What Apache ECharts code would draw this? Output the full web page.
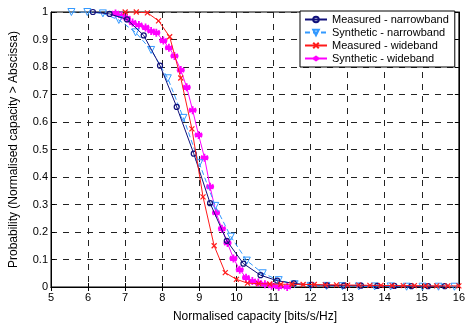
<!DOCTYPE html>
<html>
<head>
<meta charset="utf-8">
<script src="https://cdn.jsdelivr.net/npm/echarts@6/dist/echarts.min.js"></script>
<style>
  html, body { margin: 0; padding: 0; background: #fff; }
  #chart { width: 468px; height: 329px; }
</style>
</head>
<body>
<div id="chart"></div>
<script>
// values
const seriesNames = ['Measured - narrowband', 'Synthetic - narrowband', 'Measured - wideband', 'Synthetic - wideband'];

const measNarrowX = [6.13, 6.58, 7.05, 7.5, 7.94, 8.39, 8.85, 9.29, 9.74, 10.19, 10.65, 11.1, 11.55, 12.02, 12.44, 12.9, 13.36, 13.8, 14.26, 14.72, 15.17, 15.62];
const measNarrowY = [1.0, 0.993, 0.973, 0.915, 0.805, 0.655, 0.485, 0.305, 0.168, 0.085, 0.043, 0.023, 0.013, 0.008, 0.006, 0.005, 0.005, 0.004, 0.004, 0.003, 0.003, 0.003];

const synNarrowX = [5.55, 5.98, 6.4, 6.83, 7.28, 7.7, 8.15, 8.57, 9.0, 9.43, 9.85, 10.28, 10.71, 11.14, 11.57, 12.0, 12.43, 12.86, 13.3, 13.73, 14.16, 14.59, 15.02, 15.45, 15.88];
const synNarrowY = [1.0, 1.0, 0.995, 0.971, 0.926, 0.862, 0.759, 0.615, 0.45, 0.295, 0.183, 0.096, 0.05, 0.025, 0.01, 0.004, 0.004, 0.003, 0.002, 0.002, 0.002, 0.001, 0.001, 0.001, 0.001];

const measWideX = [7.0, 7.3, 7.6, 7.9, 8.2, 8.5, 8.8, 9.1, 9.4, 9.7, 10.0, 10.3, 10.6, 10.9, 11.2, 11.5, 11.8, 12.1, 12.4, 12.7, 13.0, 13.3, 13.6, 13.9, 14.2, 14.5, 14.8, 15.1, 15.4, 15.7, 16.0];
const measWideY = [1.0, 1.0, 0.997, 0.968, 0.91, 0.76, 0.575, 0.328, 0.15, 0.052, 0.028, 0.014, 0.012, 0.011, 0.01, 0.01, 0.009, 0.009, 0.008, 0.008, 0.007, 0.007, 0.006, 0.006, 0.005, 0.005, 0.005, 0.004, 0.004, 0.004, 0.004];

const synWideX = [6.74, 6.9, 7.05, 7.2, 7.37, 7.55, 7.7, 7.84, 8.03, 8.18, 8.33, 8.5, 8.66, 8.82, 8.98, 9.14, 9.29, 9.45, 9.61, 9.76, 9.92, 10.09, 10.26, 10.43, 10.59, 10.77, 10.95, 11.14, 11.37];
const synWideY = [0.995, 0.987, 0.977, 0.962, 0.953, 0.944, 0.931, 0.925, 0.896, 0.87, 0.84, 0.789, 0.726, 0.643, 0.553, 0.47, 0.365, 0.27, 0.212, 0.16, 0.104, 0.063, 0.034, 0.022, 0.016, 0.01, 0.005, 0.001, 0.0];

const xTicks = {min: 5, max: 16, interval: 1};
const yTicks = {min: 0, max: 1, interval: 0.1};

const pairs = (xs, ys) => xs.map((x, i) => [x, ys[i]]);

const FONT = 'Liberation Sans';
const crossPath = 'path://M0,0L10,10M0,10L10,0';
const starPath = 'path://M5,0L5,10M0.7,2.5L9.3,7.5M0.7,7.5L9.3,2.5M0,5L10,5';
const clear = 'rgba(255,255,255,0)';

const chart = echarts.init(document.getElementById('chart'));

const gridLine = {show: true, lineStyle: {color: '#222', width: 1, type: [6, 6]}};
const tickIn = {show: true, inside: true, length: 4, lineStyle: {color: '#000'}};

const option = {
  animation: false,
  backgroundColor: '#fff',
  textStyle: {fontFamily: FONT},
  grid: {left: 51, right: 7, top: 12, bottom: 42, show: true, borderColor: '#000', borderWidth: 1},
  legend: {
    orient: 'vertical',
    left: 300,
    top: 11,
    padding: [2, 6, 2, 4],
    itemGap: 0,
    itemWidth: 22,
    itemHeight: 7,
    itemTextGap: 6,
    backgroundColor: '#fff',
    borderColor: '#000',
    borderWidth: 1,
    borderRadius: 0,
    textStyle: {fontFamily: FONT, fontSize: 11, color: '#000', lineHeight: 13},
    data: seriesNames
  },
  xAxis: [
    {
      type: 'value', ...xTicks,
      name: 'Normalised capacity [bits/s/Hz]',
      nameLocation: 'middle', nameGap: 24,
      nameTextStyle: {fontFamily: FONT, fontSize: 12, color: '#000'},
      axisLine: {show: true, lineStyle: {color: '#000'}},
      axisTick: tickIn,
      axisLabel: {fontFamily: FONT, fontSize: 11, color: '#000', margin: 5},
      splitLine: gridLine
    },
    {
      type: 'value', ...xTicks, position: 'top',
      axisLine: {show: true, lineStyle: {color: '#000'}},
      axisTick: tickIn,
      axisLabel: {show: false},
      splitLine: {show: false}
    }
  ],
  yAxis: [
    {
      type: 'value', ...yTicks,
      name: 'Probability (Normalised capacity > Abscissa)',
      nameLocation: 'middle', nameGap: 31, nameRotate: 90,
      nameTextStyle: {fontFamily: FONT, fontSize: 12, color: '#000'},
      axisLine: {show: true, lineStyle: {color: '#000'}},
      axisTick: tickIn,
      axisLabel: {
        fontFamily: FONT, fontSize: 11, color: '#000', margin: 3,
        formatter: v => (v === 0 ? '0' : v === 1 ? '1' : v.toFixed(1))
      },
      splitLine: gridLine
    },
    {
      type: 'value', ...yTicks, position: 'right',
      axisLine: {show: true, lineStyle: {color: '#000'}},
      axisTick: tickIn,
      axisLabel: {show: false},
      splitLine: {show: false}
    }
  ],
  series: [
    {
      name: seriesNames[0],
      type: 'line',
      data: pairs(measNarrowX, measNarrowY),
      symbol: 'circle',
      symbolSize: 5,
      showAllSymbol: true,
      color: '#10107a',
      lineStyle: {color: '#10107a', width: 1},
      itemStyle: {color: clear, borderColor: '#10107a', borderWidth: 1.2},
      z: 4
    },
    {
      name: seriesNames[1],
      type: 'line',
      data: pairs(synNarrowX, synNarrowY),
      symbol: 'triangle',
      symbolRotate: 180,
      symbolSize: 7,
      showAllSymbol: true,
      color: '#3399ff',
      lineStyle: {color: '#3399ff', width: 1, type: [5, 3]},
      itemStyle: {color: clear, borderColor: '#3399ff', borderWidth: 1},
      z: 3
    },
    {
      name: seriesNames[2],
      type: 'line',
      data: pairs(measWideX, measWideY),
      symbol: crossPath,
      symbolSize: 5,
      showAllSymbol: true,
      color: '#ff1a1a',
      lineStyle: {color: '#ff1a1a', width: 1},
      itemStyle: {color: '#ff1a1a', borderColor: '#ff1a1a', borderWidth: 1.2},
      z: 5
    },
    {
      name: seriesNames[3],
      type: 'line',
      data: pairs(synWideX, synWideY),
      symbol: starPath,
      symbolSize: 8,
      showAllSymbol: true,
      color: '#ff00ff',
      lineStyle: {color: '#ff00ff', width: 1},
      itemStyle: {color: '#ff00ff', borderColor: '#ff00ff', borderWidth: 1.8},
      z: 2
    }
  ]
};

chart.setOption(option);
</script>
</body>
</html>
